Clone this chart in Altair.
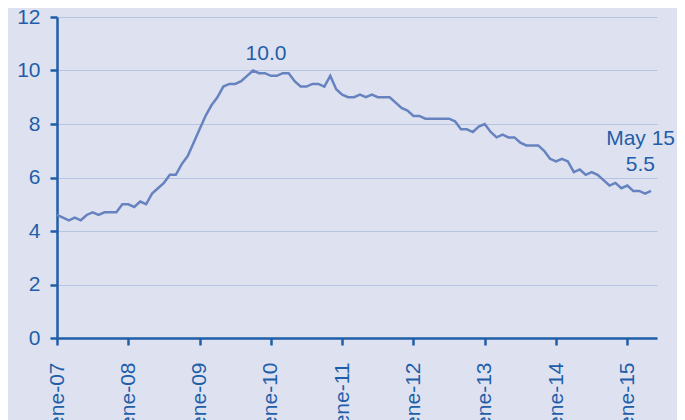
import altair as alt
import pandas as pd

rates = [
    4.6, 4.5, 4.4, 4.5, 4.4, 4.6, 4.7, 4.6, 4.7, 4.7, 4.7, 5.0,
    5.0, 4.9, 5.1, 5.0, 5.4, 5.6, 5.8, 6.1, 6.1, 6.5, 6.8, 7.3,
    7.8, 8.3, 8.7, 9.0, 9.4, 9.5, 9.5, 9.6, 9.8, 10.0, 9.9, 9.9,
    9.8, 9.8, 9.9, 9.9, 9.6, 9.4, 9.4, 9.5, 9.5, 9.4, 9.8, 9.3,
    9.1, 9.0, 9.0, 9.1, 9.0, 9.1, 9.0, 9.0, 9.0, 8.8, 8.6, 8.5,
    8.3, 8.3, 8.2, 8.2, 8.2, 8.2, 8.2, 8.1, 7.8, 7.8, 7.7, 7.9,
    8.0, 7.7, 7.5, 7.6, 7.5, 7.5, 7.3, 7.2, 7.2, 7.2, 7.0, 6.7,
    6.6, 6.7, 6.6, 6.2, 6.3, 6.1, 6.2, 6.1, 5.9, 5.7, 5.8, 5.6,
    5.7, 5.5, 5.5, 5.4, 5.5,
]
months = list(range(len(rates)))
tick_labels = ["ene-07", "ene-08", "ene-09", "ene-10", "ene-11",
               "ene-12", "ene-13", "ene-14", "ene-15"]
tick_values = [12 * i for i in range(len(tick_labels))]

BG = "#dee2f0"
DARK = "#1f5ea8"
LINE = "#6683bf"
GRID = "#b6c3e1"
FONT = "Liberation Sans"
FS = 21

df = pd.DataFrame({"m": months, "rate": rates})

label_arr = "[" + ",".join("'%s'" % s for s in tick_labels) + "]"

x_enc = alt.X(
    "m:Q",
    scale=alt.Scale(domain=[0, 101], nice=False, zero=False),
    axis=alt.Axis(
        values=tick_values,
        labelExpr=label_arr + "[round(datum.value/12)]",
        labelAngle=270, labelAlign="right", labelBaseline="middle",
        labelPadding=17, labelFontSize=FS, labelFont=FONT, labelColor=DARK,
        domainColor=DARK, domainWidth=2.5, tickColor=DARK, tickWidth=2.5,
        tickSize=7, grid=False, title=None, labelOverlap=False,
    ),
)
y_enc = alt.Y(
    "rate:Q",
    scale=alt.Scale(domain=[0, 12], nice=False),
    axis=alt.Axis(
        values=[0, 2, 4, 6, 8, 10, 12],
        labelFontSize=FS, labelFont=FONT, labelColor=DARK, labelPadding=10,
        domainColor=DARK, domainWidth=2.5, tickColor=DARK, tickWidth=2.5,
        tickSize=7, grid=True, gridColor=GRID, gridWidth=1.2, title=None,
    ),
)

line = alt.Chart(df).mark_line(color=LINE, strokeWidth=2.5).encode(x=x_enc, y=y_enc)

ann_months = [33, 100, 100]
ann_rates = [10.0, 5.5, 5.5]
ann_texts = ["10.0", "5.5", "May 15"]
ann_dx = [13, 4, 24]
ann_dy = [-17, -26, -52]
ann_align = ["center", "right", "right"]

texts = []
for mm, rr, tt, ddx, ddy, al in zip(ann_months, ann_rates, ann_texts, ann_dx, ann_dy, ann_align):
    texts.append(
        alt.Chart(pd.DataFrame({"m": [mm], "rate": [rr], "t": [tt]}))
        .mark_text(font=FONT, fontSize=FS, color=DARK, dx=ddx, dy=ddy,
                   align=al, baseline="middle")
        .encode(x="m:Q", y="rate:Q", text="t:N")
    )

chart = alt.layer(line, *texts).properties(
    width=600, height=321,
    background=BG,
    padding={"left": 49, "top": 9, "right": 20, "bottom": 82},
    autosize=alt.AutoSizeParams(type="none"),
).configure_view(stroke=None)

chart.save("out.html", embed_options={"renderer": "svg", "actions": False})
